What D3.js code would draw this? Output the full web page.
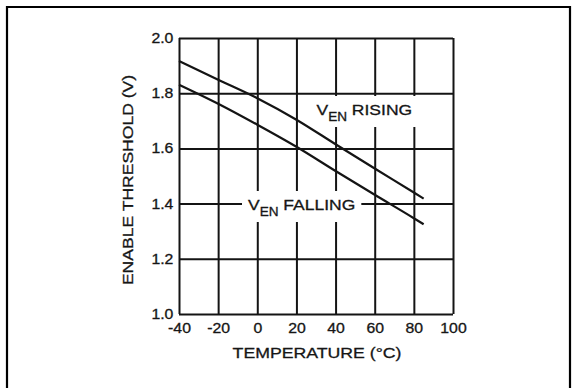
<!DOCTYPE html>
<html>
<head>
<meta charset="utf-8">
<script src="https://cdn.jsdelivr.net/npm/d3@7"></script>
<style>
  body { margin: 0; background: #fff; }
  svg { display: block; }
  text { font-family: "Liberation Sans", Arial, Helvetica, sans-serif; fill: #161616; stroke: #161616; stroke-width: 0.3px; }
</style>
</head>
<body>
<svg id="chart" width="577" height="388"></svg>
<script>
// Enable threshold vs. temperature
const temperature = [-40, -20, 0, 20, 40, 60, 80, 85];
const vRising     = [1.917, 1.849, 1.782, 1.704, 1.615, 1.527, 1.440, 1.418];
const vFalling    = [1.831, 1.762, 1.686, 1.606, 1.518, 1.432, 1.347, 1.325];
const xTicks = [-40, -20, 0, 20, 40, 60, 80, 100];
const yTicks = [1.0, 1.2, 1.4, 1.6, 1.8, 2.0];
const xTitle = "TEMPERATURE (°C)";
const yTitle = "ENABLE THRESHOLD (V)";

const svg = d3.select("#chart");
const W = 577, H = 388;
const plot = { left: 179, right: 453, top: 38, bottom: 314 };
const SX = 1.13; // horizontal stretch of the lettering

const x = d3.scaleLinear().domain([-40, 100]).range([plot.left, plot.right]);
const y = d3.scaleLinear().domain([1.0, 2.0]).range([plot.bottom, plot.top]);

// outer frame
svg.append("path")
  .attr("d", `M7,${H + 5} V7 H570 V${H + 5}`)
  .attr("fill", "none").attr("stroke", "#000").attr("stroke-width", 2.2);

const ink = "#141414";

// vertical grid + x tick labels
const gx = svg.append("g")
  .attr("transform", `translate(0,${plot.bottom})`)
  .call(d3.axisBottom(x).tickValues(xTicks).tickFormat(d => String(d))
    .tickSize(-(plot.bottom - plot.top)).tickPadding(9.5));
gx.select(".domain").remove();
gx.selectAll(".tick line").attr("stroke", ink).attr("stroke-width", 2);
gx.selectAll(".tick text")
  .attr("font-size", 14).attr("fill", ink)
  .attr("transform", `scale(${SX},1)`)
  .attr("x", 0);

// horizontal grid + y tick labels
const gy = svg.append("g")
  .attr("transform", `translate(${plot.left},0)`)
  .call(d3.axisLeft(y).tickValues(yTicks).tickFormat(d3.format(".1f"))
    .tickSize(-(plot.right - plot.left)).tickPadding(5));
gy.select(".domain").remove();
gy.selectAll(".tick line").attr("stroke", ink).attr("stroke-width", 2);
gy.selectAll(".tick text")
  .attr("font-size", 14).attr("fill", ink)
  .attr("transform", `scale(${SX},1)`);

// axis titles
svg.append("text")
  .attr("transform", `translate(${(plot.left + plot.right) / 2 + 1},357.5) scale(1.18,1)`)
  .attr("text-anchor", "middle").attr("font-size", 15)
  .text(xTitle);

svg.append("text")
  .attr("transform", `translate(132.5,${(plot.top + plot.bottom) / 2 + 4}) rotate(-90) scale(1.17,1)`)
  .attr("text-anchor", "middle").attr("font-size", 15)
  .text(yTitle);

// curve labels with a white backing that breaks the grid
function curveLabel(px, py, word) {
  const g = svg.append("g");
  const bg = g.append("rect").attr("fill", "#fff");
  const t = g.append("text")
    .attr("transform", `translate(${px},${py}) scale(${SX},1)`)
    .attr("font-size", 15.5);
  t.append("tspan").text("V");
  t.append("tspan").attr("font-size", 12).attr("dy", 6).text("EN");
  t.append("tspan").attr("dy", -6).text("\u00A0" + word);
  const b = t.node().getBBox();
  const pad = 6;
  bg.attr("x", px - pad).attr("y", py - 14 - pad + 1)
    .attr("width", b.width * SX + 2 * pad)
    .attr("height", 20 + 2 * pad - 1);
}
curveLabel(316.5, 115, "RISING");
curveLabel(248, 210, "FALLING");

// threshold curves
const line = d3.line()
  .x((d, i) => x(temperature[i]))
  .y(d => y(d))
  .curve(d3.curveMonotoneX);

[vRising, vFalling].forEach(series => {
  svg.append("path")
    .datum(series)
    .attr("d", line)
    .attr("fill", "none")
    .attr("stroke", ink)
    .attr("stroke-width", 2.2);
});
</script>
</body>
</html>
